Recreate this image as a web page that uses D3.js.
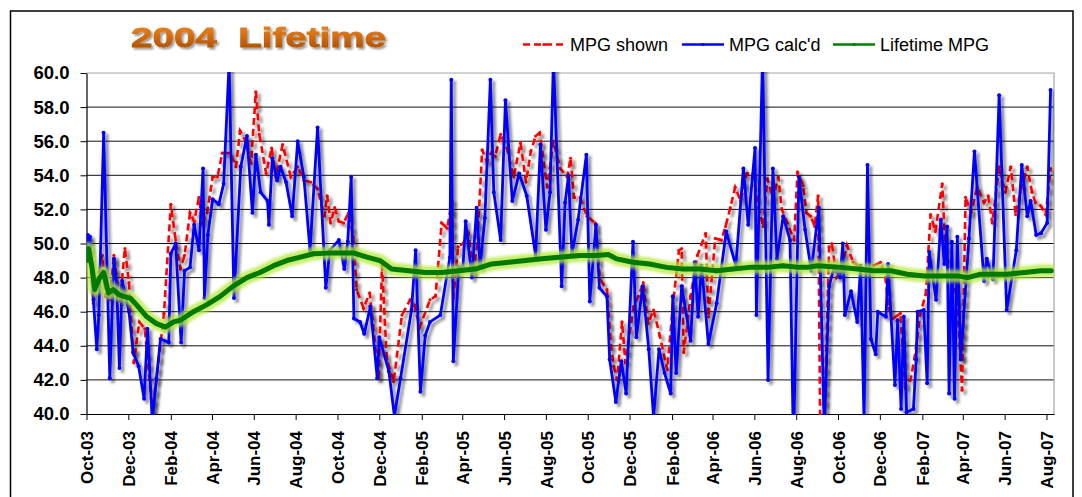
<!DOCTYPE html>
<html lang="en">
<head>
<meta charset="UTF-8">
<title>2004 Lifetime</title>
<script src="https://cdn.jsdelivr.net/npm/d3@7"></script>
<style>
  body { margin: 0; background: #fff; }
  svg { display: block; }
</style>
</head>
<body>
<script>

var width = 1082;
var height = 497;
var plot = {left: 86.5, right: 1054, top: 73, bottom: 414};

// axis labels
var monthLabels = ["Oct-03", "Dec-03", "Feb-04", "Apr-04", "Jun-04", "Aug-04",
    "Oct-04", "Dec-04", "Feb-05", "Apr-05", "Jun-05", "Aug-05", "Oct-05", "Dec-05",
    "Feb-06", "Apr-06", "Jun-06", "Aug-06", "Oct-06", "Dec-06", "Feb-07", "Apr-07",
    "Jun-07", "Aug-07"];
var mpgTicks = [40, 42, 44, 46, 48, 50, 52, 54, 56, 58, 60];

// fill-ups, x = days since 1 Oct 2003
var calcDays = [0, 2, 5, 10, 15, 18, 25, 34, 40, 44, 48, 52, 57, 62, 68, 76, 84, 89, 96, 102,
    108, 120, 123, 130, 138, 143, 151, 157, 164, 170, 172, 177, 184, 193, 200, 208, 215, 225, 234, 242,
    247, 254, 264, 266, 271, 278, 283, 291, 300, 308, 317, 326, 337, 349, 355, 368, 376, 381, 386, 390,
    399, 405, 414, 424, 427, 441, 449, 458, 474, 480, 487, 494, 501, 516, 530, 532, 535, 543, 549, 553,
    562, 569, 574, 581, 589, 594, 604, 611, 621, 631, 642, 655, 662, 670, 676, 681, 693, 698, 703, 708,
    717, 729, 734, 743, 748, 759, 763, 772, 780, 787, 797, 802, 811, 820, 827, 835, 843, 852, 855, 860,
    868, 881, 887, 892, 897, 907, 919, 933, 947, 958, 965, 975, 977, 986, 994, 1001, 1007, 1016, 1026, 1031,
    1039, 1048, 1057, 1068, 1076, 1083, 1091, 1099, 1103, 1106, 1115, 1124, 1129, 1134, 1139, 1144, 1151, 1154, 1166, 1169,
    1179, 1183, 1188, 1192, 1196, 1206, 1210, 1212, 1221, 1226, 1229, 1239, 1246, 1251, 1255, 1258, 1262, 1266, 1270, 1275,
    1287, 1295, 1309, 1313, 1322, 1331, 1342, 1356, 1364, 1372, 1377, 1385, 1392, 1401, 1406];
var calcMpg = [49.0, 50.5, 50.4, 46.7, 43.8, 45.8, 56.5, 42.1, 49.1, 47.6, 42.7, 47.8, 46.9, 46.0, 43.6, 42.8, 40.9, 45.0, 39.6, 42.1,
    44.4, 44.2, 49.4, 50.0, 44.2, 48.4, 48.6, 51.1, 49.6, 54.4, 46.8, 50.5, 52.6, 52.3, 53.5, 60.6, 46.8, 54.5, 56.3, 51.8,
    55.2, 53.0, 52.5, 51.1, 55.0, 53.7, 54.5, 53.6, 51.6, 56.0, 53.9, 49.6, 56.8, 47.4, 49.6, 50.2, 48.5, 50.1, 53.9, 45.6,
    45.4, 44.7, 46.3, 42.1, 44.5, 42.5, 39.9, 42.1, 46.1, 49.6, 41.3, 44.6, 45.4, 45.8, 49.2, 59.6, 43.1, 48.6, 48.6, 51.3,
    48.0, 52.1, 48.6, 51.5, 59.6, 53.0, 50.2, 58.4, 52.5, 54.1, 52.8, 49.3, 55.8, 50.8, 53.0, 60.8, 47.5, 52.4, 54.0, 49.4,
    51.4, 55.2, 46.6, 51.1, 47.4, 46.9, 43.2, 40.7, 43.1, 41.2, 50.1, 44.5, 47.5, 43.8, 39.8, 43.8, 42.4, 41.2, 46.9, 42.4,
    47.5, 44.3, 48.9, 45.7, 48.7, 44.1, 46.5, 50.7, 48.7, 54.4, 51.1, 55.6, 45.8, 61.0, 42.0, 54.4, 49.1, 51.6, 50.2, 38.0,
    53.9, 50.8, 48.4, 52.1, 39.0, 47.5, 48.7, 48.0, 50.0, 45.8, 47.2, 45.4, 48.7, 39.5, 54.6, 44.4, 43.5, 46.0, 45.7, 48.8,
    41.7, 45.5, 40.3, 45.7, 40.1, 40.3, 43.2, 46.0, 46.1, 41.8, 49.5, 46.7, 51.4, 48.8, 51.0, 41.2, 50.1, 40.9, 50.4, 43.2,
    50.3, 55.4, 47.8, 49.1, 47.9, 58.7, 46.1, 49.6, 54.6, 51.6, 52.5, 50.5, 50.6, 51.2, 59.0];

var shownDays = [0, 4, 10, 18, 23, 28, 34, 40, 45, 49, 56, 62, 69, 77, 85, 90, 96, 102, 113, 123,
    130, 137, 143, 151, 157, 164, 169, 176, 184, 191, 198, 210, 218, 224, 232, 240, 247, 252, 262, 270,
    276, 286, 298, 308, 317, 327, 337, 347, 351, 356, 362, 368, 375, 382, 389, 394, 404, 413, 418, 426,
    431, 438, 448, 460, 472, 478, 486, 501, 509, 518, 526, 533, 535, 542, 549, 557, 564, 570, 577, 584,
    590, 596, 604, 613, 623, 633, 641, 648, 655, 661, 672, 681, 691, 701, 706, 711, 720, 730, 742, 749,
    759, 765, 769, 774, 781, 786, 798, 805, 812, 819, 827, 836, 847, 855, 864, 868, 871, 881, 891, 903,
    907, 917, 926, 932, 939, 946, 954, 963, 972, 980, 987, 993, 1001, 1009, 1014, 1022, 1032, 1037, 1045, 1050,
    1056, 1062, 1067, 1070, 1076, 1083, 1087, 1094, 1100, 1109, 1118, 1129, 1140, 1148, 1158, 1165, 1170, 1176, 1187, 1194,
    1202, 1210, 1216, 1224, 1231, 1238, 1248, 1253, 1262, 1270, 1277, 1282, 1290, 1299, 1309, 1315, 1321, 1331, 1340, 1348,
    1355, 1362, 1372, 1379, 1384, 1392, 1399, 1406];
var shownMpg = [50.4, 50.2, 46.5, 48.3, 49.3, 46.9, 46.7, 49.3, 47.7, 46.6, 49.7, 47.7, 43.0, 45.4, 45.0, 42.8, 40.1, 42.0, 45.9, 52.3,
    50.2, 48.5, 49.3, 51.8, 51.3, 52.7, 51.2, 51.8, 53.9, 53.9, 55.3, 55.3, 54.5, 56.6, 56.0, 54.7, 58.9, 56.4, 54.1, 55.6,
    53.9, 55.8, 53.9, 54.5, 53.7, 53.6, 53.2, 51.6, 52.8, 51.2, 52.1, 51.3, 51.2, 51.8, 50.4, 47.3, 46.2, 47.1, 45.2, 42.1,
    48.7, 43.2, 41.9, 45.8, 46.7, 46.4, 45.1, 46.7, 46.9, 51.2, 50.9, 52.5, 46.8, 49.8, 50.0, 50.6, 48.3, 50.0, 55.5, 54.8,
    55.3, 55.1, 56.4, 55.6, 53.9, 55.9, 53.6, 55.4, 56.3, 56.5, 53.3, 56.0, 54.4, 53.9, 55.0, 52.7, 52.7, 51.6, 51.2, 47.9,
    47.3, 44.0, 42.8, 42.0, 45.4, 43.0, 46.3, 46.9, 47.7, 45.3, 46.1, 44.6, 42.6, 46.3, 49.6, 49.7, 43.6, 46.9, 49.3, 50.6,
    45.7, 50.3, 50.2, 51.0, 52.1, 53.3, 52.5, 54.1, 54.1, 52.1, 51.0, 53.8, 52.6, 53.9, 52.0, 51.2, 50.2, 54.2, 53.4, 51.8,
    51.6, 51.0, 52.8, 39.5, 39.5, 49.8, 50.0, 48.0, 48.3, 49.9, 48.9, 48.6, 48.5, 48.7, 48.9, 48.0, 46.2, 45.6, 45.9, 41.6,
    42.0, 43.9, 45.9, 47.0, 51.7, 50.7, 53.5, 49.2, 48.5, 46.5, 41.4, 52.7, 51.8, 53.3, 52.4, 52.8, 51.2, 54.5, 53.0, 54.5,
    51.7, 53.0, 54.5, 53.0, 52.4, 52.2, 51.7, 54.4];

var lifeDays = [0, 3, 8, 12, 18, 25, 32, 39, 47, 54, 64, 73, 88, 102, 115, 127, 137, 156, 175, 195,
    214, 234, 253, 273, 292, 312, 331, 360, 389, 409, 428, 445, 470, 494, 518, 543, 567, 591, 616, 640,
    664, 689, 720, 743, 761, 773, 797, 821, 846, 870, 894, 919, 943, 967, 992, 1016, 1040, 1051, 1066, 1100,
    1124, 1149, 1173, 1197, 1222, 1246, 1270, 1285, 1304, 1324, 1343, 1368, 1392, 1407];
var lifeMpg = [49.0, 49.7, 48.6, 47.3, 47.9, 48.3, 47.1, 47.3, 47.0, 46.9, 46.8, 46.4, 45.7, 45.3, 45.1, 45.4, 45.5, 46.0, 46.4, 46.9,
    47.5, 48.0, 48.3, 48.7, 49.0, 49.2, 49.4, 49.45, 49.45, 49.2, 49.0, 48.5, 48.4, 48.3, 48.3, 48.4, 48.5, 48.8, 48.9, 49.0,
    49.1, 49.2, 49.3, 49.3, 49.35, 49.1, 48.9, 48.8, 48.6, 48.5, 48.5, 48.4, 48.5, 48.6, 48.6, 48.7, 48.6, 48.6, 48.7, 48.6,
    48.5, 48.4, 48.4, 48.2, 48.1, 48.1, 48.1, 48.0, 48.2, 48.2, 48.2, 48.3, 48.4, 48.4];

var startDate = new Date(2003, 9, 1);
function toDate(d) { return d3.timeDay.offset(startDate, d); }
function pairs(days, vals) {
    return days.map(function (d, i) { return {date: toDate(d), v: vals[i]}; });
}

var xScale = d3.scaleTime()
    .domain([startDate, toDate(1411)])
    .range([plot.left, plot.right]);
var yScale = d3.scaleLinear()
    .domain([40, 60])
    .range([plot.bottom, plot.top]);

var svg = d3.select("body").append("svg")
    .attr("width", width)
    .attr("height", height);

var defs = svg.append("defs");
var shadow = defs.append("filter").attr("id", "shadow")
    .attr("filterUnits", "userSpaceOnUse")
    .attr("x", 0).attr("y", 0).attr("width", width).attr("height", height);
shadow.append("feGaussianBlur").attr("in", "SourceAlpha").attr("stdDeviation", 1.8);
shadow.append("feOffset").attr("dx", 3).attr("dy", 3).attr("result", "off");
shadow.append("feComponentTransfer").append("feFuncA").attr("type", "linear").attr("slope", 0.5);
var merge = shadow.append("feMerge");
merge.append("feMergeNode");
merge.append("feMergeNode").attr("in", "SourceGraphic");

var glow = defs.append("filter").attr("id", "glow")
    .attr("filterUnits", "userSpaceOnUse")
    .attr("x", 0).attr("y", 0).attr("width", width).attr("height", height);
glow.append("feGaussianBlur").attr("stdDeviation", 1.6);

var grad = defs.append("linearGradient").attr("id", "titleGrad")
    .attr("x1", 0).attr("y1", 0).attr("x2", 0).attr("y2", 1);
grad.append("stop").attr("offset", "0%").attr("stop-color", "#ee8c2c");
grad.append("stop").attr("offset", "50%").attr("stop-color", "#d46a0a");
grad.append("stop").attr("offset", "100%").attr("stop-color", "#9c4a04");

var tshadow = defs.append("filter").attr("id", "tshadow")
    .attr("x", "-5%").attr("y", "-20%").attr("width", "115%").attr("height", "150%");
tshadow.append("feGaussianBlur").attr("in", "SourceAlpha").attr("stdDeviation", 1.2);
tshadow.append("feOffset").attr("dx", 2).attr("dy", 2);
tshadow.append("feComponentTransfer").append("feFuncA").attr("type", "linear").attr("slope", 0.4);
var tm = tshadow.append("feMerge");
tm.append("feMergeNode");
tm.append("feMergeNode").attr("in", "SourceGraphic");

defs.append("clipPath").attr("id", "plotClip")
    .append("rect")
    .attr("x", plot.left).attr("y", plot.top - 1)
    .attr("width", plot.right - plot.left).attr("height", plot.bottom - plot.top + 2);

// chart border
svg.append("rect")
    .attr("x", 10.5).attr("y", 11)
    .attr("width", 1062.5).attr("height", 495)
    .attr("fill", "none").attr("stroke", "#000").attr("stroke-width", 1.5);

// title
svg.append("text")
    .attr("x", 131).attr("y", 46.5)
    .attr("textLength", 255).attr("lengthAdjust", "spacingAndGlyphs")
    .attr("font-family", "'Liberation Sans', Arial, sans-serif")
    .attr("font-weight", "bold").attr("font-size", 28)
    .attr("fill", "url(#titleGrad)")
    .attr("stroke", "url(#titleGrad)").attr("stroke-width", 0.8)
    .attr("filter", "url(#tshadow)")
    .attr("xml:space", "preserve")
    .text("2004  Lifetime");

// gridlines
svg.append("g").selectAll("line")
    .data(mpgTicks.filter(function (t) { return t > 40 && t < 60; }))
    .enter().append("line")
    .attr("x1", plot.left).attr("x2", plot.right)
    .attr("y1", function (d) { return yScale(d); })
    .attr("y2", function (d) { return yScale(d); })
    .attr("stroke", "#111").attr("stroke-width", 1);

// plot area border (top / right)
svg.append("path")
    .attr("d", "M" + plot.left + "," + yScale(60) + "H" + plot.right + "V" + plot.bottom)
    .attr("fill", "none").attr("stroke", "#a6a6a6").attr("stroke-width", 1.2);

// axes
var parseMonth = d3.timeParse("%b-%y");
var tickDates = monthLabels.map(parseMonth);

var xAxis = d3.axisBottom(xScale)
    .tickValues(tickDates)
    .tickSize(6).tickSizeOuter(0)
    .tickFormat(function (d, i) { return monthLabels[i]; });
var yAxis = d3.axisLeft(yScale)
    .tickValues(mpgTicks)
    .tickSize(6).tickSizeOuter(0)
    .tickFormat(d3.format(".1f"));

var xGroup = svg.append("g")
    .attr("transform", "translate(0," + plot.bottom + ")")
    .call(xAxis);
xGroup.select(".domain").attr("stroke", "#000").attr("stroke-width", 1.2);
xGroup.selectAll(".tick line").attr("stroke", "#000");
xGroup.selectAll(".tick text")
    .attr("font-family", "'Liberation Sans', Arial, sans-serif")
    .attr("font-weight", "bold").attr("font-size", 17).attr("fill", "#000")
    .attr("text-anchor", "end")
    .attr("transform", "translate(0,17) rotate(-90)")
    .attr("x", 0).attr("y", 0).attr("dy", "0.36em");

var yGroup = svg.append("g")
    .attr("transform", "translate(" + plot.left + ",0)")
    .call(yAxis);
yGroup.select(".domain").attr("stroke", "#000").attr("stroke-width", 1.2);
yGroup.selectAll(".tick line").attr("stroke", "#000");
yGroup.selectAll(".tick text")
    .attr("font-family", "'Liberation Sans', Arial, sans-serif")
    .attr("font-weight", "bold").attr("font-size", 18.5).attr("fill", "#000")
    .attr("x", -17);

// series
var line = d3.line()
    .x(function (d) { return xScale(d.date); })
    .y(function (d) { return yScale(d.v); });

var shownData = pairs(shownDays, shownMpg);
var calcData = pairs(calcDays, calcMpg);
var lifeData = pairs(lifeDays, lifeMpg);

var series = svg.append("g").attr("clip-path", "url(#plotClip)");

var redG = series.append("g").attr("filter", "url(#shadow)");
redG.append("path")
    .attr("d", line(shownData))
    .attr("fill", "none").attr("stroke", "#ff0000")
    .attr("stroke-width", 2.6).attr("stroke-dasharray", "7,4");
redG.selectAll("circle").data(shownData).enter().append("circle")
    .attr("cx", function (d) { return xScale(d.date); })
    .attr("cy", function (d) { return yScale(d.v); })
    .attr("r", 1.6).attr("fill", "#ff0000");

var blueG = series.append("g").attr("filter", "url(#shadow)");
blueG.append("path")
    .attr("d", line(calcData))
    .attr("fill", "none").attr("stroke", "#0000ff")
    .attr("stroke-width", 2.8).attr("stroke-linejoin", "round");
blueG.selectAll("circle").data(calcData).enter().append("circle")
    .attr("cx", function (d) { return xScale(d.date); })
    .attr("cy", function (d) { return yScale(d.v); })
    .attr("r", 2).attr("fill", "#0000ff");

var greenG = series.append("g");
greenG.append("path")
    .attr("d", line(lifeData))
    .attr("fill", "none").attr("stroke", "#b4e83a")
    .attr("stroke-width", 13).attr("stroke-opacity", 0.75)
    .attr("stroke-linejoin", "round").attr("stroke-linecap", "round")
    .attr("filter", "url(#glow)");
greenG.append("path")
    .attr("d", line(lifeData))
    .attr("fill", "none").attr("stroke", "#007a00")
    .attr("stroke-width", 5)
    .attr("stroke-linejoin", "round").attr("stroke-linecap", "round");

// legend
var legendItems = [
    {label: "MPG shown", color: "#ff0000", dash: "7,4", x: 523},
    {label: "MPG calc'd", color: "#0000ff", dash: null, x: 682},
    {label: "Lifetime MPG", color: "#008000", dash: null, x: 833}
];
var legend = svg.append("g");
legendItems.forEach(function (it) {
    legend.append("line")
        .attr("x1", it.x).attr("x2", it.x + 42)
        .attr("y1", 44.5).attr("y2", 44.5)
        .attr("stroke", it.color).attr("stroke-width", 2.6)
        .attr("stroke-dasharray", it.dash);
    legend.append("circle")
        .attr("cx", it.x + 21).attr("cy", 44.5).attr("r", 1.6)
        .attr("fill", it.color);
    legend.append("text")
        .attr("x", it.x + 47).attr("y", 50.8)
        .attr("font-family", "'Liberation Sans', Arial, sans-serif")
        .attr("font-size", 18).attr("fill", "#000")
        .text(it.label);
});

</script>
</body>
</html>
